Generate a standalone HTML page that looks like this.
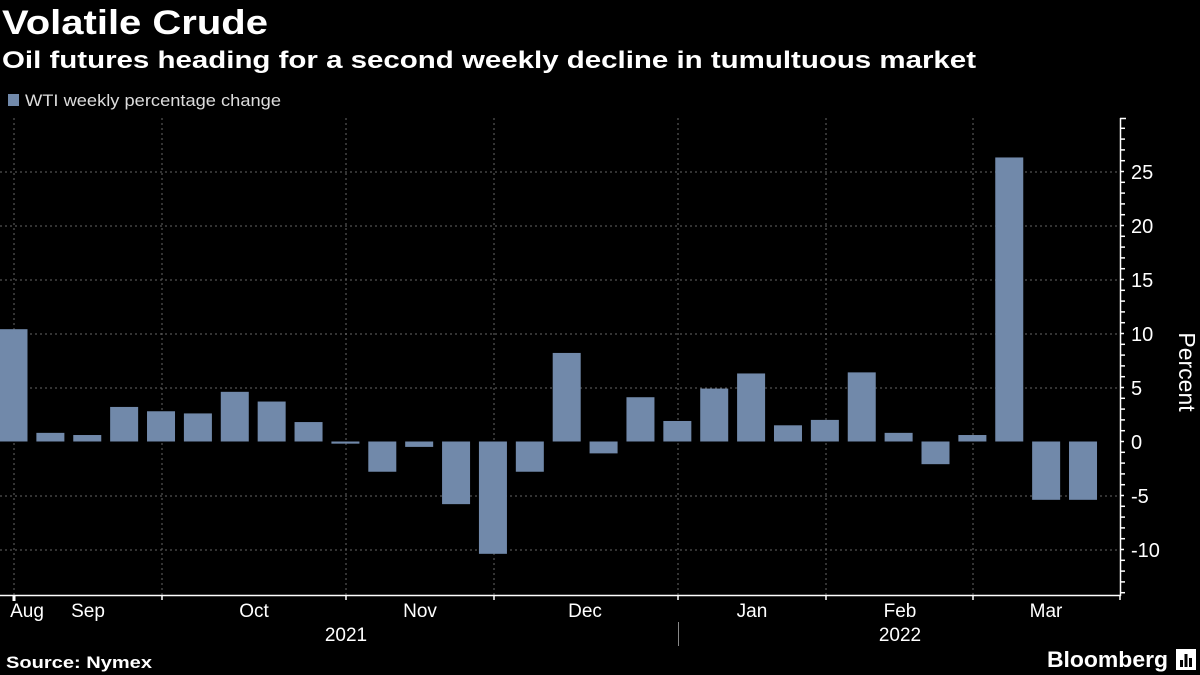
<!DOCTYPE html>
<html><head><meta charset="utf-8"><style>
body{margin:0;background:#000;width:1200px;height:675px;overflow:hidden;font-family:"Liberation Sans",sans-serif;color:#fff}
</style></head><body>
<svg width="1200" height="675" xmlns="http://www.w3.org/2000/svg" style="position:absolute;left:0;top:0">
<text x="2" y="34" font-size="34" font-weight="bold" fill="#fff" textLength="266" lengthAdjust="spacingAndGlyphs">Volatile Crude</text>
<text x="2" y="68" font-size="24" font-weight="bold" fill="#fff" textLength="974" lengthAdjust="spacingAndGlyphs">Oil futures heading for a second weekly decline in tumultuous market</text>
<rect x="8" y="94" width="11" height="12" fill="#7189aa"/>
<text x="25" y="106" font-size="17" fill="#ddd" textLength="256" lengthAdjust="spacingAndGlyphs">WTI weekly percentage change</text>
<g stroke="#666" stroke-width="1" stroke-dasharray="2,3">
<line x1="0" x2="1120" y1="172" y2="172"/><line x1="0" x2="1120" y1="226" y2="226"/>
<line x1="0" x2="1120" y1="280" y2="280"/><line x1="0" x2="1120" y1="334" y2="334"/>
<line x1="0" x2="1120" y1="388" y2="388"/><line x1="0" x2="1120" y1="496" y2="496"/>
<line x1="0" x2="1120" y1="550" y2="550"/>
<line x1="14" x2="14" y1="118" y2="595"/><line x1="162" x2="162" y1="118" y2="595"/>
<line x1="346" x2="346" y1="118" y2="595"/><line x1="494" x2="494" y1="118" y2="595"/>
<line x1="678" x2="678" y1="118" y2="595"/><line x1="826" x2="826" y1="118" y2="595"/>
<line x1="973" x2="973" y1="118" y2="595"/>
</g>
<g id="bars" fill="#7189aa"></g>
<line x1="0" x2="1121" y1="595.5" y2="595.5" stroke="#fff" stroke-width="1.5"/>
<line x1="1120.5" x2="1120.5" y1="118" y2="596" stroke="#fff" stroke-width="1.5"/>
<g stroke="#fff" stroke-width="1.5">
<line x1="1120" x2="1126" y1="118.5" y2="118.5"/>
<line x1="14" x2="14" y1="595" y2="601" stroke-width="3"/>
<line x1="162" x2="162" y1="595" y2="600"/><line x1="346" x2="346" y1="595" y2="600"/>
<line x1="494" x2="494" y1="595" y2="600"/><line x1="678" x2="678" y1="595" y2="600"/>
<line x1="826" x2="826" y1="595" y2="600"/><line x1="973" x2="973" y1="595" y2="600"/>
<line x1="1120" x2="1120" y1="595" y2="600"/>
<line x1="678.5" x2="678.5" y1="622" y2="646" stroke="#888" stroke-width="1"/>
</g>
<g id="yt" stroke="#fff" stroke-width="1.5"></g>
<g fill="#fff" font-size="20">
<text x="1131" y="179">25</text><text x="1131" y="233">20</text><text x="1131" y="287">15</text>
<text x="1131" y="341">10</text><text x="1131" y="395">5</text><text x="1131" y="449">0</text>
<text x="1131" y="503">-5</text><text x="1131" y="557">-10</text>
<text x="1179" y="372" transform="rotate(90 1179 372)" font-size="23" text-anchor="middle">Percent</text>
</g>
<g fill="#fff" font-size="19" text-anchor="middle">
<text x="27" y="617">Aug</text><text x="88" y="617">Sep</text><text x="254" y="617">Oct</text>
<text x="420" y="617">Nov</text><text x="585" y="617">Dec</text><text x="752" y="617">Jan</text>
<text x="900" y="617">Feb</text><text x="1046" y="617">Mar</text>
<text x="346" y="641">2021</text><text x="900" y="641">2022</text>
</g>
<text x="6" y="668" font-size="17" font-weight="bold" fill="#fff" textLength="146" lengthAdjust="spacingAndGlyphs">Source: Nymex</text>
<text x="1047" y="667" font-size="22" font-weight="bold" fill="#fff" textLength="121" lengthAdjust="spacingAndGlyphs">Bloomberg</text>
<rect x="1176" y="649" width="20" height="21" fill="#fff"/>
<g fill="#000"><rect x="1180" y="660" width="3" height="7"/><rect x="1184.5" y="654" width="3" height="13"/><rect x="1189" y="658" width="3" height="9"/></g>
</svg>
<script>
var v=[10.4,0.8,0.6,3.2,2.8,2.6,4.6,3.7,1.8,-0.2,-2.8,-0.5,-5.8,-10.4,-2.8,8.2,-1.1,4.1,1.9,4.9,6.3,1.5,2.0,6.4,0.8,-2.1,0.6,26.3,-5.4,-5.4];
var g=document.getElementById('bars'),s='',z=441.5,k=10.8;
v.forEach(function(d,i){var c=13.5+i*36.88,h=Math.abs(d)*k,y=d>=0?z-h:z;s+='<rect x="'+(c-14)+'" y="'+y+'" width="28" height="'+Math.max(h,1.5)+'"/>';});
g.innerHTML=s;
var t='';for(var u=-14;u<=29;u++){var y=z-u*k;if(y<118||y>596)continue;var L=(u%5==0)?4:5;t+='<line x1="1120" x2="'+(1120+L)+'" y1="'+y+'" y2="'+y+'"/>';}
document.getElementById('yt').innerHTML=t;
</script>
</body></html>
